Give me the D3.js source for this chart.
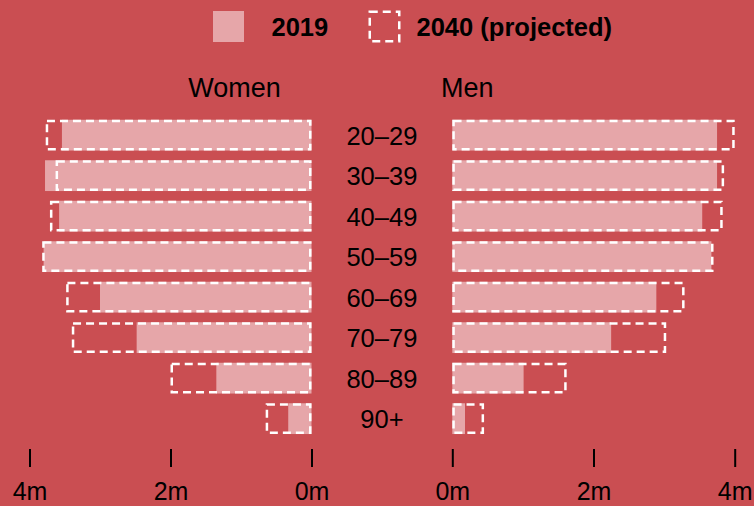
<!DOCTYPE html>
<html>
<head>
<meta charset="utf-8">
<script src="https://cdn.jsdelivr.net/npm/d3@7"></script>
<style>
  html, body { margin: 0; padding: 0; background: #ca4e52; }
  svg { display: block; font-family: "Liberation Sans", Arial, sans-serif; }
</style>
</head>
<body>
<script>
// age groups, top to bottom
var ages = ["20–29", "30–39", "40–49", "50–59", "60–69", "70–79", "80–89", "90+"];
// population in millions
var women2019 = [3.54, 3.78, 3.58, 3.80, 3.00, 2.48, 1.35, 0.33];
var women2040 = [3.77, 3.63, 3.71, 3.82, 3.48, 3.40, 2.00, 0.65];
var men2019 = [3.75, 3.75, 3.54, 3.67, 2.89, 2.25, 1.01, 0.18];
var men2040 = [4.00, 3.85, 3.83, 3.70, 3.29, 3.03, 1.62, 0.45];
var tickValues = [0, 2, 4];
var legendLabels = ["2019", "2040 (projected)"];
var sideLabels = ["Women", "Men"];

var width = 754,
    height = 506,
    bg = "#ca4e52",
    fill2019 = "#e6a6a9",
    sw = 2.5,
    dash = "8,5";

var svg = d3.select("body").append("svg")
    .attr("width", width)
    .attr("height", height);

svg.append("rect")
    .attr("width", width)
    .attr("height", height)
    .attr("fill", bg);

var xLeft = d3.scaleLinear().domain([0, 4]).range([311.5, 29.5]);
var xRight = d3.scaleLinear().domain([0, 4]).range([452.3, 734.7]);

var y = d3.scaleBand()
    .domain(ages)
    .range([114.9, 438.9])
    .paddingInner(0.24)
    .paddingOuter(0.12);

function rows(a, b) {
    return ages.map(function(age, i) { return {age: age, v2019: a[i], v2040: b[i]}; });
}

function drawSide(data, x, cls) {
    var g = svg.append("g").attr("class", cls);

    // 2019 filled bars
    g.selectAll(".bar2019")
        .data(data)
        .enter().append("rect")
        .attr("class", "bar2019")
        .attr("x", function(d) { return Math.min(x(0), x(d.v2019)); })
        .attr("y", function(d) { return y(d.age); })
        .attr("width", function(d) { return Math.abs(x(d.v2019) - x(0)); })
        .attr("height", y.bandwidth())
        .attr("fill", fill2019);

    // 2040 dashed outlines, inset by half the stroke so outer edge sits on the value
    g.selectAll(".bar2040")
        .data(data)
        .enter().append("rect")
        .attr("class", "bar2040")
        .attr("x", function(d) { return Math.min(x(0), x(d.v2040)) + sw / 2; })
        .attr("y", function(d) { return y(d.age) + sw / 2; })
        .attr("width", function(d) { return Math.abs(x(d.v2040) - x(0)) - sw; })
        .attr("height", y.bandwidth() - sw)
        .attr("fill", "none")
        .attr("stroke", "#fff")
        .attr("stroke-width", sw)
        .attr("stroke-dasharray", dash);

    // axis
    var axis = svg.append("g")
        .attr("transform", "translate(0,449)")
        .call(d3.axisBottom(x).tickValues(tickValues).tickSize(18).tickPadding(15.25)
            .tickFormat(function(d) { return d + "m"; }));
    axis.select(".domain").remove();
    axis.selectAll(".tick line").attr("stroke", "#000").attr("stroke-width", 2);
    axis.selectAll(".tick text")
        .attr("fill", "#000")
        .attr("font-family", "Liberation Sans, Arial, sans-serif")
        .attr("font-size", 25);
}

drawSide(rows(women2019, women2040), xLeft, "women");
drawSide(rows(men2019, men2040), xRight, "men");

// age labels in the middle
svg.append("g").selectAll("text")
    .data(ages)
    .enter().append("text")
    .attr("x", (xLeft(0) + xRight(0)) / 2)
    .attr("y", function(d) { return y(d) + y.bandwidth() / 2 + 9.8; })
    .attr("text-anchor", "middle")
    .attr("font-size", 25.5)
    .attr("fill", "#000")
    .text(function(d) { return d; });

// side headings
svg.append("text")
    .attr("x", 234.5).attr("y", 96.7)
    .attr("text-anchor", "middle")
    .attr("font-size", 27)
    .text(sideLabels[0]);
svg.append("text")
    .attr("x", 441).attr("y", 96.7)
    .attr("font-size", 27)
    .text(sideLabels[1]);

// legend
var legend = svg.append("g");
legend.append("rect")
    .attr("x", 213).attr("y", 11)
    .attr("width", 31).attr("height", 31)
    .attr("fill", fill2019);
legend.append("text")
    .attr("x", 271.5).attr("y", 35.7)
    .attr("font-size", 25.5).attr("font-weight", "bold")
    .text(legendLabels[0]);
legend.append("rect")
    .attr("x", 368.5 + sw / 2).attr("y", 10.5 + sw / 2)
    .attr("width", 32 - sw).attr("height", 32 - sw)
    .attr("fill", "none")
    .attr("stroke", "#fff")
    .attr("stroke-width", sw)
    .attr("stroke-dasharray", dash);
legend.append("text")
    .attr("x", 416.5).attr("y", 35.7)
    .attr("font-size", 25.5).attr("font-weight", "bold")
    .text(legendLabels[1]);
</script>
</body>
</html>
